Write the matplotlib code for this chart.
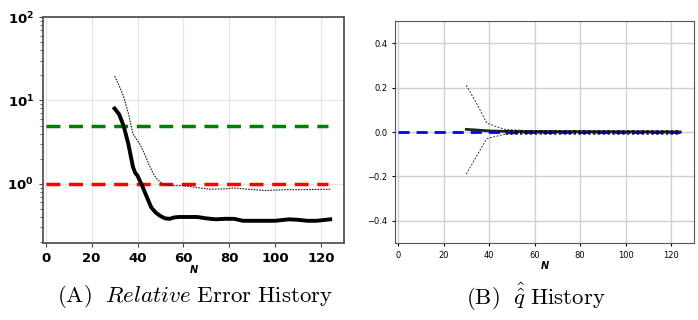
import numpy as np
import matplotlib
matplotlib.use('Agg')
import matplotlib.pyplot as plt
from matplotlib.ticker import FuncFormatter, LogLocator

# (A) relative error history
n_err = [30, 32, 34, 36, 38, 39, 40, 42, 44, 46, 48, 50, 52, 54, 56, 58, 62, 66,
         70, 74, 78, 82, 86, 90, 96, 100, 106, 110, 114, 118, 124]
err_mean = [8.0, 6.8, 4.9, 3.0, 1.6, 1.35, 1.25, 0.95, 0.7, 0.52, 0.45, 0.41, 0.385, 0.38,
            0.395, 0.40, 0.40, 0.40, 0.385, 0.375, 0.38, 0.38, 0.36, 0.36, 0.36, 0.36,
            0.375, 0.37, 0.36, 0.36, 0.375]
n_err_ub = [30, 32, 34, 36, 38, 39, 41, 43, 45, 47, 49, 51, 53, 56, 60, 66, 72, 78,
            82, 88, 96, 104, 112, 124]
err_ub = [19.6, 15.0, 11.0, 7.0, 4.0, 3.6, 3.0, 2.3, 1.7, 1.3, 1.1, 1.0, 0.97, 0.95,
          0.95, 0.9, 0.86, 0.87, 0.89, 0.86, 0.83, 0.85, 0.85, 0.86]
n_ref = [0, 123]
green_level = [5.0, 5.0]
red_level = [1.0, 1.0]

# (B) q-hat history
n_q = [30, 35, 39, 43, 47, 55, 70, 124]
q_upper = [0.21, 0.12, 0.04, 0.025, 0.012, 0.007, 0.005, 0.004]
q_lower = [-0.19, -0.10, -0.03, -0.02, -0.01, -0.006, -0.005, -0.004]
n_q_mean = [30, 40, 50, 124]
q_mean = [0.012, 0.005, 0.002, 0.0]
n_q_dot = [47, 124]
q_dot = [0.0, 0.0]
n_true = [0, 124]
q_true = [0.0, 0.0]

fig = plt.figure(figsize=(6.98, 3.2), dpi=100)

# left panel
ax1 = fig.add_axes([43/698, 1 - 243/320, 301/698, 226/320])
ax1.plot(n_ref, green_level, '--', color='green', lw=2.5, dashes=(4, 2.5))
ax1.plot(n_ref, red_level, '--', color='red', lw=2.5, dashes=(4, 2.5))
ax1.plot(n_err_ub, err_ub, '--', color='#222222', lw=0.8, dashes=(1.5, 1))
ax1.plot(n_err, err_mean, '-', color='black', lw=2.8)
ax1.set_yscale('log')
ax1.set_xlim(-1.2, 130)
ax1.set_ylim(0.195, 100)
ax1.set_xticks([0, 20, 40, 60, 80, 100, 120])
ax1.yaxis.set_major_locator(LogLocator(base=10, numticks=5))
ax1.yaxis.set_major_formatter(FuncFormatter(lambda v, p: r'$\mathbf{10^{%d}}$' % round(np.log10(v))))
ax1.grid(True, color='#e6e6e6', lw=1)
for lab in ax1.get_xticklabels():
    lab.set_fontweight('bold')
ax1.tick_params(labelsize=9.5, length=3, color='#444444')
ax1.tick_params(which='minor', length=2, color='#444444')
for s in ax1.spines.values():
    s.set_color('#555555')
    s.set_linewidth(1.3)
ax1.set_xlabel('N', fontsize=7, fontweight='bold', fontstyle='italic', labelpad=0)

# right panel
ax2 = fig.add_axes([395/698, 1 - 243/320, 299/698, 222/320])
ax2.plot(n_true, q_true, '--', color='blue', lw=2, dashes=(4, 2.5), zorder=3)
ax2.plot(n_q, q_upper, '--', color='#333333', lw=0.7, dashes=(2, 1.5))
ax2.plot(n_q, q_lower, '--', color='#333333', lw=0.7, dashes=(2, 1.5))
ax2.plot(n_q_mean, q_mean, '-', color='#222222', lw=2)
ax2.plot(n_q_dot, q_dot, '--', color='black', lw=3.5, alpha=0.7, dashes=(0.5, 0.5), zorder=4)
ax2.set_xlim(-1.3, 130)
ax2.set_ylim(-0.5, 0.5)
ax2.set_xticks([0, 20, 40, 60, 80, 100, 120])
ax2.set_yticks([-0.4, -0.2, 0.0, 0.2, 0.4])
ax2.grid(True, color='#d0d0d0', lw=1)
ax2.tick_params(labelsize=6, length=2, width=0.8)
for s in ax2.spines.values():
    s.set_color('#555555')
ax2.set_xlabel('N', fontsize=7, fontweight='bold', fontstyle='italic', labelpad=1)

# captions
fig.text(195/698, 1 - 297/320, r'$\mathrm{(A)}\ \ \mathit{Relative}\ \mathrm{Error\ History}$',
         ha='center', va='center', fontsize=16.5, math_fontfamily='cm')
fig.text(536/698, 1 - 297/320, r'$\mathrm{(B)}\ \ \hat{\hat{q}}\ \mathrm{History}$',
         ha='center', va='center', fontsize=16.5, math_fontfamily='cm')

fig.savefig('out.png', dpi=100)
